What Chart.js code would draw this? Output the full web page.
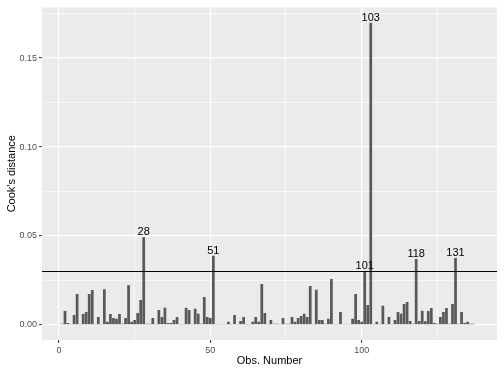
<!DOCTYPE html>
<html>
<head>
<meta charset="utf-8">
<script src="https://cdn.jsdelivr.net/npm/chart.js@4"></script>
<style>
  html, body { margin: 0; padding: 0; background: #fff; }
  #wrap { width: 504px; height: 374px; }
</style>
</head>
<body>
<div id="wrap"><canvas id="cooksChart" width="504" height="374"></canvas></div>
<script>
const obs = Array.from({length: 138}, (_, i) => i + 1);
const cooks = [
    0.0007, 0.0078, 0.0011, 0.0002, 0.0056, 0.0173, 0.0002, 0.0061, 0.0073, 0.0173,
    0.0196, 0.0002, 0.0045, 0.0002, 0.0201, 0.0017, 0.0061, 0.0039, 0.0034, 0.0061,
    0.0006, 0.0039, 0.0223, 0.0017, 0.0028, 0.0067, 0.0140, 0.0493, 0.0006, 0.0006,
    0.0039, 0.0002, 0.0084, 0.0045, 0.0096, 0.0011, 0.0011, 0.0028, 0.0045, 0.0002,
    0.0002, 0.0096, 0.0084, 0.0002, 0.0090, 0.0062, 0.0006, 0.0157, 0.0045, 0.0039,
    0.0388, 0.0002, 0.0002, 0.0002, 0.0002, 0.0017, 0.0002, 0.0056, 0.0002, 0.0022,
    0.0045, 0.0002, 0.0005, 0.0017, 0.0045, 0.0017, 0.0230, 0.0067, 0.0002, 0.0028,
    0.0006, 0.0006, 0.0002, 0.0039, 0.0006, 0.0006, 0.0045, 0.0017, 0.0039, 0.0050,
    0.0062, 0.0045, 0.0219, 0.0002, 0.0197, 0.0028, 0.0028, 0.0006, 0.0034, 0.0258,
    0.0002, 0.0002, 0.0073, 0.0002, 0.0002, 0.0002, 0.0034, 0.0174, 0.0028, 0.0017,
    0.0303, 0.0112, 0.1698, 0.0002, 0.0017, 0.0002, 0.0107, 0.0002, 0.0045, 0.0002,
    0.0028, 0.0073, 0.0062, 0.0118, 0.0129, 0.0022, 0.0006, 0.0371, 0.0022, 0.0079,
    0.0020, 0.0078, 0.0095, 0.0011, 0.0006, 0.0045, 0.0073, 0.0095, 0.0006, 0.0117,
    0.0376, 0.0006, 0.0073, 0.0011, 0.0017, 0.0006, 0.0006, 0.0003
];
const cutoff = 0.03;
const xTicks = [0, 25, 50, 75, 100, 125];
const xMajor = [0, 50, 100];
const yTicks = [0, 0.025, 0.05, 0.075, 0.1, 0.125, 0.15, 0.175];
const yMajor = [0, 0.05, 0.1, 0.15];

const isMajor = (list, v) => v !== undefined && list.some(m => Math.abs(m - v) < 1e-9);
const tickVal = c => (c && c.tick) ? c.tick.value : undefined;

// grey ggplot panel
const panelBg = {
    id: 'panelBg',
    beforeDraw(chart) {
        const {ctx, chartArea: a} = chart;
        ctx.save();
        ctx.fillStyle = '#EBEBEB';
        ctx.fillRect(a.left, a.top, a.right - a.left, a.bottom - a.top);
        ctx.restore();
    }
};

// cutoff line + labels for influential points
const cutoffAndLabels = {
    id: 'cutoffAndLabels',
    afterDatasetsDraw(chart) {
        const {ctx, chartArea: a, scales: {x, y}} = chart;
        ctx.save();
        const yc = y.getPixelForValue(cutoff);
        ctx.strokeStyle = '#000';
        ctx.lineWidth = 1.1;
        ctx.beginPath();
        ctx.moveTo(a.left, yc);
        ctx.lineTo(a.right, yc);
        ctx.stroke();

        ctx.fillStyle = '#000';
        ctx.font = '11px "Liberation Sans", Arial, sans-serif';
        ctx.textAlign = 'center';
        ctx.textBaseline = 'alphabetic';
        cooks.forEach((v, i) => {
            if (v > cutoff) {
                ctx.fillText(String(obs[i]), x.getPixelForValue(obs[i]), y.getPixelForValue(v) - 2);
            }
        });
        ctx.restore();
    }
};

const ctx = document.getElementById('cooksChart').getContext('2d');
new Chart(ctx, {
    type: 'bar',
    data: {
        labels: obs,
        datasets: [{
            data: cooks,
            backgroundColor: '#595959',
            borderWidth: 0,
            categoryPercentage: 1,
            barPercentage: 0.9
        }]
    },
    options: {
        responsive: false,
        animation: false,
        layout: { padding: { top: 4, right: 7, left: 0, bottom: 0 } },
        plugins: {
            legend: { display: false },
            tooltip: { enabled: false }
        },
        scales: {
            x: {
                type: 'linear',
                min: -5.6,
                max: 144.7,
                offset: false,
                afterBuildTicks: s => { s.ticks = xTicks.map(v => ({value: v})); },
                afterFit: s => { s.height = 34; },
                border: { display: false },
                grid: {
                    offset: false,
                    color: '#FFFFFF',
                    lineWidth: c => isMajor(xMajor, tickVal(c)) ? 1.2 : 0.6,
                    tickColor: c => isMajor(xMajor, tickVal(c)) ? '#333333' : 'rgba(0,0,0,0)',
                    tickLength: 3,
                    tickWidth: 1
                },
                ticks: {
                    autoSkip: false,
                    maxRotation: 0,
                    padding: 2,
                    color: '#4D4D4D',
                    font: { family: '"Liberation Sans", Arial, sans-serif', size: 9 },
                    callback: v => isMajor(xMajor, v) ? String(v) : ''
                },
                title: {
                    display: true,
                    text: 'Obs. Number',
                    color: '#000',
                    font: { family: '"Liberation Sans", Arial, sans-serif', size: 11 },
                    padding: { top: 0, bottom: 6 }
                }
            },
            y: {
                min: -0.0085,
                max: 0.1785,
                afterBuildTicks: s => { s.ticks = yTicks.map(v => ({value: v})); },
                afterFit: s => { s.width = 42; },
                border: { display: false },
                grid: {
                    color: '#FFFFFF',
                    lineWidth: c => isMajor(yMajor, tickVal(c)) ? 1.2 : 0.6,
                    tickColor: c => isMajor(yMajor, tickVal(c)) ? '#333333' : 'rgba(0,0,0,0)',
                    tickLength: 3,
                    tickWidth: 1
                },
                ticks: {
                    autoSkip: false,
                    padding: 2,
                    color: '#4D4D4D',
                    font: { family: '"Liberation Sans", Arial, sans-serif', size: 9 },
                    callback: v => isMajor(yMajor, v) ? v.toFixed(2) : ''
                },
                title: {
                    display: true,
                    text: "Cook's distance",
                    color: '#000',
                    font: { family: '"Liberation Sans", Arial, sans-serif', size: 11 },
                    padding: { top: 5, bottom: 0 }
                }
            }
        }
    },
    plugins: [panelBg, cutoffAndLabels]
});
</script>
</body>
</html>
